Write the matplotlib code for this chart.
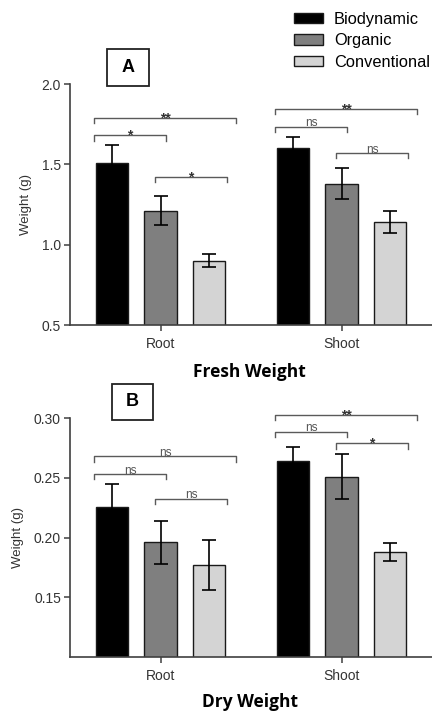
import matplotlib
matplotlib.use('Agg')
import matplotlib.pyplot as plt
from matplotlib.patches import Patch, Rectangle
import numpy as np

plt.rcParams['font.family'] = ['Liberation Sans', 'DejaVu Sans']

# data
groups = ['Root', 'Shoot']
treatments = ['Biodynamic', 'Organic', 'Conventional']
colors = ['#000000', '#7f7f7f', '#d4d4d4']

fresh_mean = [[1.51, 1.21, 0.90], [1.60, 1.38, 1.14]]
fresh_err = [[0.11, 0.09, 0.04], [0.07, 0.095, 0.067]]
dry_mean = [[0.226, 0.196, 0.177], [0.264, 0.251, 0.188]]
dry_err = [[0.019, 0.018, 0.021], [0.012, 0.019, 0.0075]]

# significance brackets: (group, bar i, bar j, label, height)
fresh_sig = [(0, 0, 2, '**', 1.79), (0, 0, 1, '*', 1.68), (0, 1, 2, '*', 1.42),
             (1, 0, 2, '**', 1.845), (1, 0, 1, 'ns', 1.735), (1, 1, 2, 'ns', 1.57)]
dry_sig = [(0, 0, 2, 'ns', 0.268), (0, 0, 1, 'ns', 0.2532), (0, 1, 2, 'ns', 0.2324),
           (1, 0, 2, '**', 0.3028), (1, 0, 1, 'ns', 0.2888), (1, 1, 2, '*', 0.279)]

fresh_ylim = (0.5, 2.0)
fresh_ticks = [0.5, 1.0, 1.5, 2.0]
dry_ylim = (0.10, 0.30)
dry_ticks = [0.15, 0.20, 0.25, 0.30]

offset = 0.268
width = 0.182
pads = {(0, 1): (-0.10, 0.03), (1, 2): (-0.03, 0.10), (0, 2): (-0.10, 0.15)}
axis_col = '#404040'

fig = plt.figure(figsize=(4.32, 7.11), dpi=100)


def draw_panel(ax, means, errs, sig, ylim, ticks, fmt):
    x = np.arange(len(groups))
    for k in range(len(treatments)):
        vals = [means[g][k] for g in range(len(groups))]
        ers = [errs[g][k] for g in range(len(groups))]
        ax.bar(x + (k - 1) * offset, vals, width, color=colors[k],
               edgecolor='#1a1a1a', linewidth=1.0, zorder=2)
        ax.errorbar(x + (k - 1) * offset, vals, yerr=ers, fmt='none',
                    ecolor='black', elinewidth=1.2, capsize=4.8,
                    capthick=1.2, zorder=3)
    tick_len = (ylim[1] - ylim[0]) * 0.022
    for g, i, j, lab, h in sig:
        p = pads[(i, j)]
        x1 = g + (i - 1) * offset + p[0]
        x2 = g + (j - 1) * offset + p[1]
        ax.plot([x1, x1, x2, x2], [h - tick_len, h, h, h - tick_len],
                color='#5a5a5a', lw=1.0, clip_on=False, zorder=4)
        if lab == 'ns':
            ax.annotate(lab, ((x1 + x2) / 2, h), xytext=(0, 0.3),
                        textcoords='offset points', ha='center', va='baseline',
                        fontsize=8.5, color='#555555', annotation_clip=False)
        else:
            ax.annotate(lab, ((x1 + x2) / 2, h), xytext=(0, -3.2),
                        textcoords='offset points', ha='center', va='baseline',
                        fontsize=10, fontweight='bold', color='#333333',
                        annotation_clip=False)
    ax.set_xlim(-0.5, 1.5)
    ax.set_ylim(*ylim)
    ax.set_yticks(ticks)
    ax.set_yticklabels([fmt.format(t) for t in ticks])
    ax.set_xticks(x)
    ax.set_xticklabels(groups)
    for s in ['top', 'right']:
        ax.spines[s].set_visible(False)
    for s in ['left', 'bottom']:
        ax.spines[s].set_color(axis_col)
        ax.spines[s].set_linewidth(1.2)
    ax.tick_params(axis='both', colors=axis_col, labelcolor='#333333',
                   labelsize=10, length=4.5, width=1.1, pad=2)
    ax.tick_params(axis='x', pad=4)
    ax.set_ylabel('Weight (g)', fontsize=9.5, color='#333333', labelpad=7)


ax1 = fig.add_axes([70 / 432, 1 - 325 / 711, 362 / 432, 241 / 711])
draw_panel(ax1, fresh_mean, fresh_err, fresh_sig, fresh_ylim, fresh_ticks, '{:.1f}')
ax2 = fig.add_axes([70 / 432, 1 - 656.7 / 711, 362 / 432, 238.4 / 711])
draw_panel(ax2, dry_mean, dry_err, dry_sig, dry_ylim, dry_ticks, '{:.2f}')

# panel letters in boxes
for lab, bx, by, bw, bh in [('A', 107, 49, 42, 37), ('B', 112, 384, 41, 36)]:
    fig.patches.append(Rectangle((bx / 432, 1 - (by + bh) / 711), bw / 432, bh / 711,
                                 transform=fig.transFigure, fill=False,
                                 edgecolor='#222222', lw=1.3))
    fig.text((bx + bw / 2) / 432, 1 - (by + bh / 2) / 711, lab, ha='center',
             va='center', fontsize=13, fontweight='bold')

fig.text(249 / 432, 1 - 372 / 711, 'Fresh Weight', ha='center', va='center',
         fontsize=12.5, fontweight='bold', family=['Open Sans', 'DejaVu Sans'])
fig.text(250 / 432, 1 - 702 / 711, 'Dry Weight', ha='center', va='center',
         fontsize=12.5, fontweight='bold', family=['Open Sans', 'DejaVu Sans'])

handles = [Patch(facecolor=c, edgecolor='#1a1a1a', lw=1.0) for c in colors]
fig.legend(handles, treatments, loc='upper left', bbox_to_anchor=(289 / 432, 1 - 7 / 711),
           frameon=False, fontsize=11.8, handlelength=1.75, handleheight=0.6,
           handletextpad=0.7, labelspacing=0.4, borderaxespad=0, borderpad=0.3)

fig.savefig('out.png', dpi=100)
